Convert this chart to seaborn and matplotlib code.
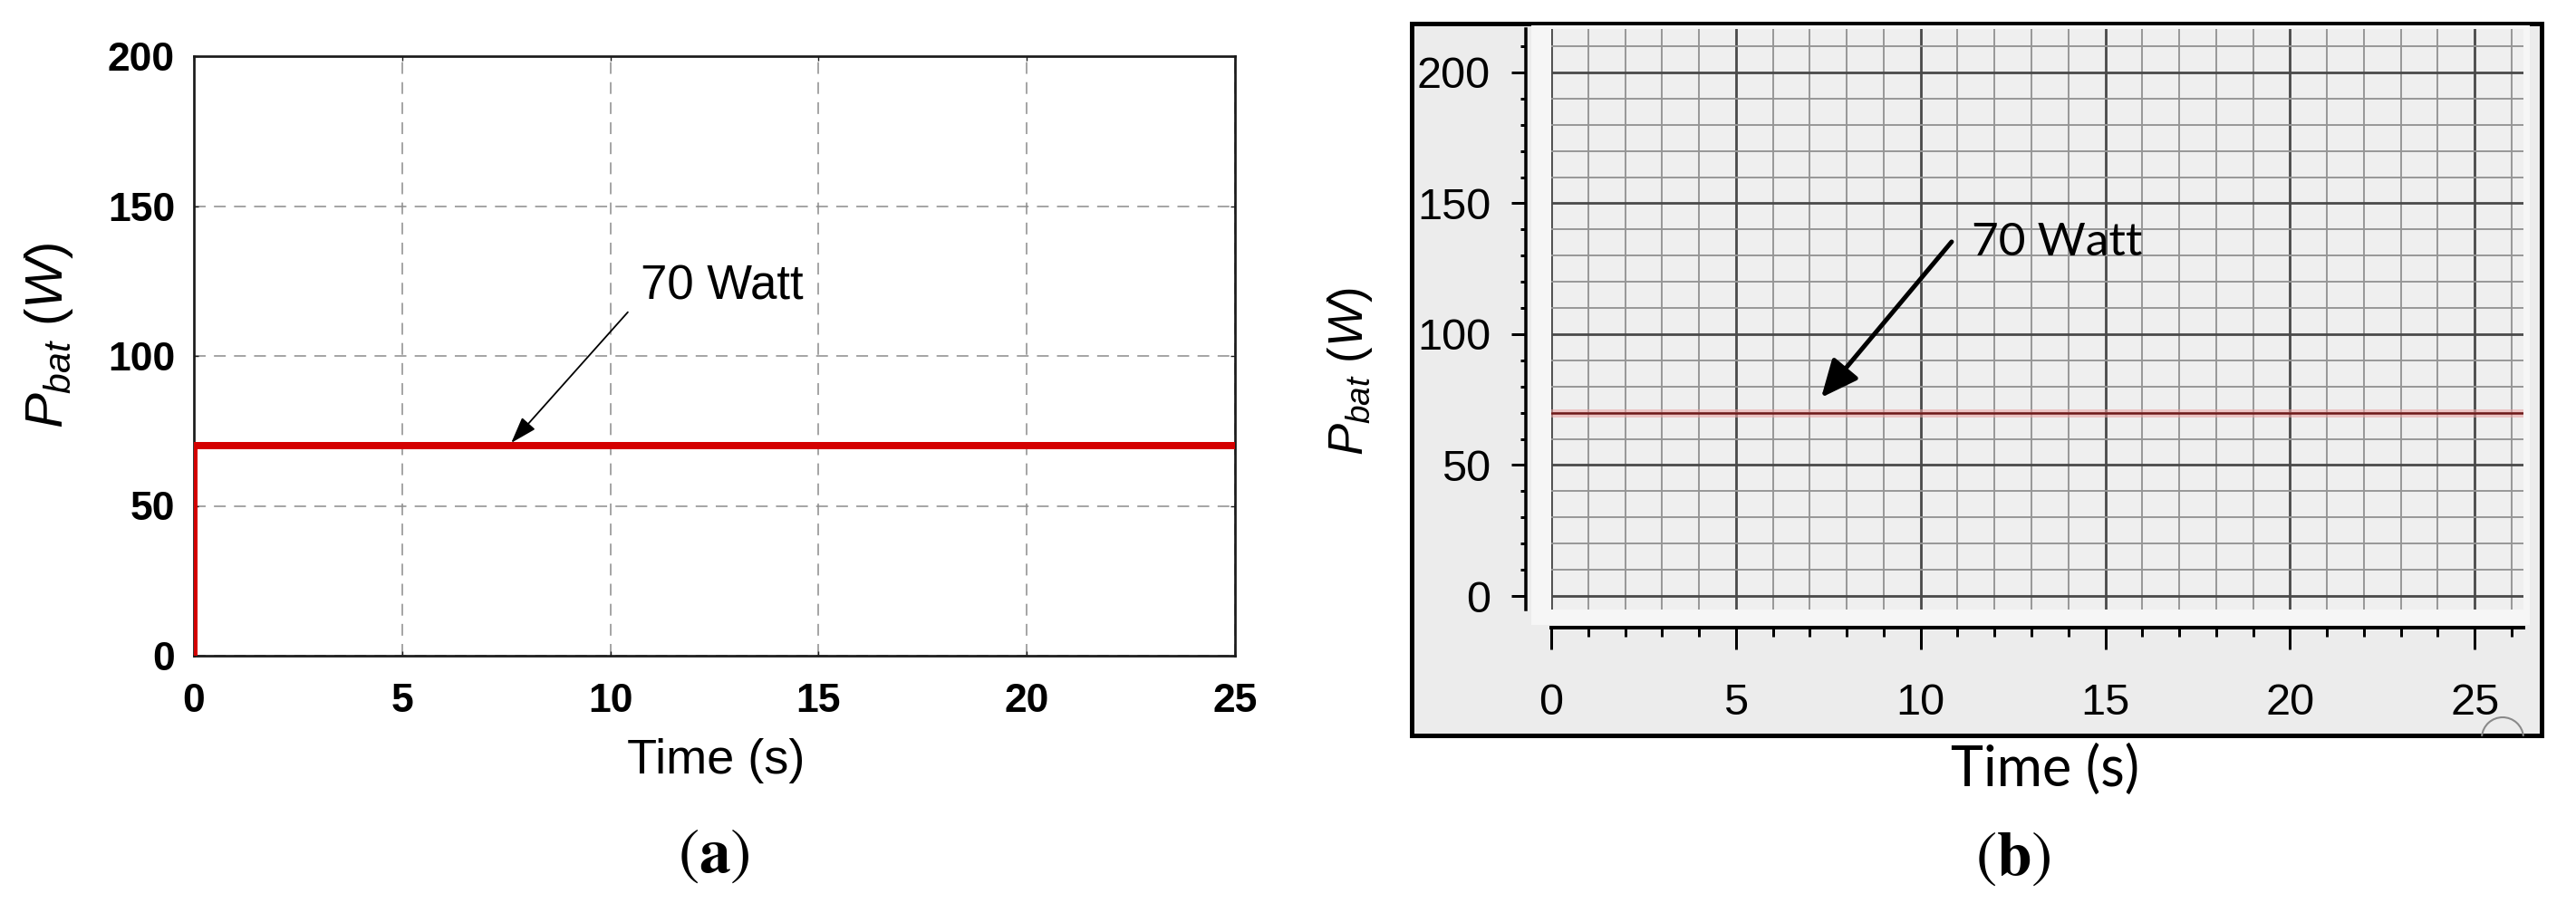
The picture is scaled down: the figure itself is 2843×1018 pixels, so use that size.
import numpy as np
import pandas as pd
import seaborn as sns
import matplotlib
matplotlib.use("Agg")
import matplotlib.pyplot as plt
from matplotlib.patches import Rectangle, Arc
from matplotlib import font_manager as fm

# ---------------- data ----------------
time_a = [0, 0, 25]
power_a = [0, 70, 70]
time_b = [0, 26.3]
power_b = [70, 70]
xticks_a = [0, 5, 10, 15, 20, 25]
yticks_a = [0, 50, 100, 150, 200]
xticks_b = [0, 5, 10, 15, 20, 25]
yticks_b = [0, 50, 100, 150, 200]
xminor_b = list(range(0, 27))
yminor_b = list(range(0, 220, 10))
annot_text = "70 Watt"
xlabel = "Time (s)"
ylabel = r"$P_{bat}\ (W)$"
panel_a = r"$(\mathbf{a})$"
panel_b = r"$(\mathbf{b})$"

sns.set_theme(style="white")
plt.rcParams["font.family"] = ["Liberation Sans", "DejaVu Sans"]
plt.rcParams["mathtext.fontset"] = "custom"
plt.rcParams["mathtext.it"] = "Liberation Sans:italic"
plt.rcParams["mathtext.rm"] = "Liberation Sans"
plt.rcParams["mathtext.bf"] = "Liberation Sans:bold"
plt.rcParams["text.color"] = "black"
plt.rcParams["xtick.color"] = "black"
plt.rcParams["ytick.color"] = "black"
plt.rcParams["axes.labelcolor"] = "black"

names = {f.name for f in fm.fontManager.ttflist}
narrow = ["Liberation Sans Narrow", "Liberation Sans"] if "Liberation Sans Narrow" in names else ["Liberation Sans"]
calib = ["Lato", "Liberation Sans"] if "Lato" in names else ["Liberation Sans"]

W, H = 2843, 1018
DPI = 100
fig = plt.figure(figsize=(W / DPI, H / DPI), dpi=DPI)
fig.patch.set_facecolor("white")


def fx(px):
    return px / W


def fy(py):
    return 1 - py / H


def pt(px):
    return px * 72 / DPI


# ---------------- panel (a) ----------------
ax1 = fig.add_axes([fx(214), fy(724), fx(1363) - fx(214), fy(62) - fy(724)])
ax1.set_facecolor("white")
sns.lineplot(x=time_a, y=power_a, ax=ax1, color="#d40000", lw=pt(8),
             sort=False, estimator=None, zorder=3)
ax1.set_xlim(0, 25)
ax1.set_ylim(0, 200)
ax1.set_xticks(xticks_a)
ax1.set_yticks(yticks_a)
ax1.set_xticklabels([str(v) for v in xticks_a])
ax1.set_yticklabels([str(v) for v in yticks_a])
ax1.grid(True, color="#8c8c8c", linestyle=(0, (8.5, 6)), linewidth=1.1)
for s in ax1.spines.values():
    s.set_visible(True)
    s.set_color("#1a1a1a")
    s.set_linewidth(pt(2.7))
ax1.tick_params(axis="both", labelsize=32, direction="in", length=pt(5),
                width=1, color="#1a1a1a", labelcolor="black",
                top=True, right=True, bottom=True, left=True)
ax1.tick_params(axis="y", pad=pt(21))
ax1.tick_params(axis="x", pad=pt(30))
for lbl in ax1.get_xticklabels() + ax1.get_yticklabels():
    lbl.set_fontweight("bold")
ax1.set_xlabel("")
ax1.set_ylabel("")
ax1.annotate("", xy=(7.62, 71.0), xytext=(10.42, 114.6),
             arrowprops=dict(arrowstyle="-|>,head_length=0.9,head_width=0.3",
                             color="black", lw=1.3, mutation_scale=20,
                             shrinkA=0, shrinkB=0), zorder=4)
ax1.text(10.72, 123.0, annot_text, fontsize=38, ha="left", va="center", color="black")

fig.text(fx(790), fy(840), xlabel, ha="center", va="center", fontsize=39, color="black")
fig.text(fx(54), fy(370), ylabel, rotation=90, ha="center", va="center", fontsize=42, color="black")
fig.text(fx(788), fy(945), panel_a, ha="center", va="center", fontsize=50,
         math_fontfamily="stix", color="black")

# ---------------- panel (b) ----------------
frame = Rectangle((fx(1558), fy(812)), fx(2805) - fx(1558), fy(26) - fy(812),
                  transform=fig.transFigure, facecolor="#ececec",
                  edgecolor="black", lw=pt(5), zorder=-2)
fig.add_artist(frame)
strip = Rectangle((fx(1690), fy(690)), fx(2792) - fx(1690), fy(28) - fy(690),
                  transform=fig.transFigure, facecolor="#f6f6f6",
                  edgecolor="none", zorder=-1)
fig.add_artist(strip)

ax2 = fig.add_axes([fx(1712), fy(673), fx(2785) - fx(1712), fy(32) - fy(673)])
ax2.set_facecolor("#efefef")
sns.lineplot(x=time_b, y=power_b, ax=ax2, color="#e9a0a0", lw=pt(9), alpha=0.55, zorder=3)
sns.lineplot(x=time_b, y=power_b, ax=ax2, color="#6e1a1a", lw=pt(2.5), zorder=4)
ax2.set_xlim(0, 26.32)
ax2.set_ylim(-5.19, 216.6)
ax2.set_xticks(xticks_b)
ax2.set_yticks(yticks_b)
ax2.set_xticks([v for v in xminor_b if v not in xticks_b], minor=True)
ax2.set_yticks([v for v in yminor_b if v not in yticks_b], minor=True)
ax2.set_xticklabels([str(v) for v in xticks_b])
ax2.set_yticklabels([str(v) for v in yticks_b])
ax2.set_axisbelow(True)
ax2.grid(True, which="major", color="#4a4a4a", lw=pt(2.8))
ax2.grid(True, which="minor", color="#959595", lw=pt(1.9))
ax2.spines["top"].set_visible(False)
ax2.spines["right"].set_visible(False)
ax2.spines["left"].set_position(("outward", pt(28)))
ax2.spines["bottom"].set_position(("outward", pt(20)))
ax2.spines["left"].set_linewidth(pt(3.5))
ax2.spines["bottom"].set_linewidth(pt(4))
ax2.spines["left"].set_color("black")
ax2.spines["bottom"].set_color("black")
ax2.tick_params(axis="y", which="major", direction="out", length=pt(16), width=pt(3),
                color="black", labelcolor="black", labelsize=35, pad=pt(23), left=True)
ax2.tick_params(axis="y", which="minor", direction="out", length=pt(6), width=pt(3),
                color="black", left=True)
ax2.tick_params(axis="x", which="major", direction="out", length=pt(24), width=pt(3),
                color="black", labelcolor="black", labelsize=35, pad=pt(37), bottom=True)
ax2.tick_params(axis="x", which="minor", direction="out", length=pt(10), width=pt(3),
                color="black", bottom=True)
for lbl in ax2.get_xticklabels() + ax2.get_yticklabels():
    lbl.set_fontfamily(narrow)
ax2.set_xlabel("")
ax2.set_ylabel("")
ax2.annotate("", xy=(7.31, 75.8), xytext=(10.84, 135.3),
             arrowprops=dict(arrowstyle="-|>,head_length=1.0,head_width=0.45",
                             color="black", lw=pt(5), mutation_scale=25,
                             shrinkA=0, shrinkB=0), zorder=5)
ax2.text(11.38, 135, annot_text, fontsize=37, family=calib, ha="left", va="center",
         color="black")

arc = Arc((fx(2762), fy(815)), fx(46), 46 / H, theta1=15, theta2=165,
          transform=fig.transFigure, color="#8a8a8a", lw=1.5)
fig.add_artist(arc)

fig.text(fx(2257), fy(850), xlabel, ha="center", va="center", fontsize=44, family=calib,
         color="black")
fig.text(fx(1490), fy(410), ylabel, rotation=90, ha="center", va="center", fontsize=38,
         color="black")
fig.text(fx(2222), fy(948), panel_b, ha="center", va="center", fontsize=50,
         math_fontfamily="stix", color="black")

fig.savefig("out.png", dpi=DPI, facecolor="white")
